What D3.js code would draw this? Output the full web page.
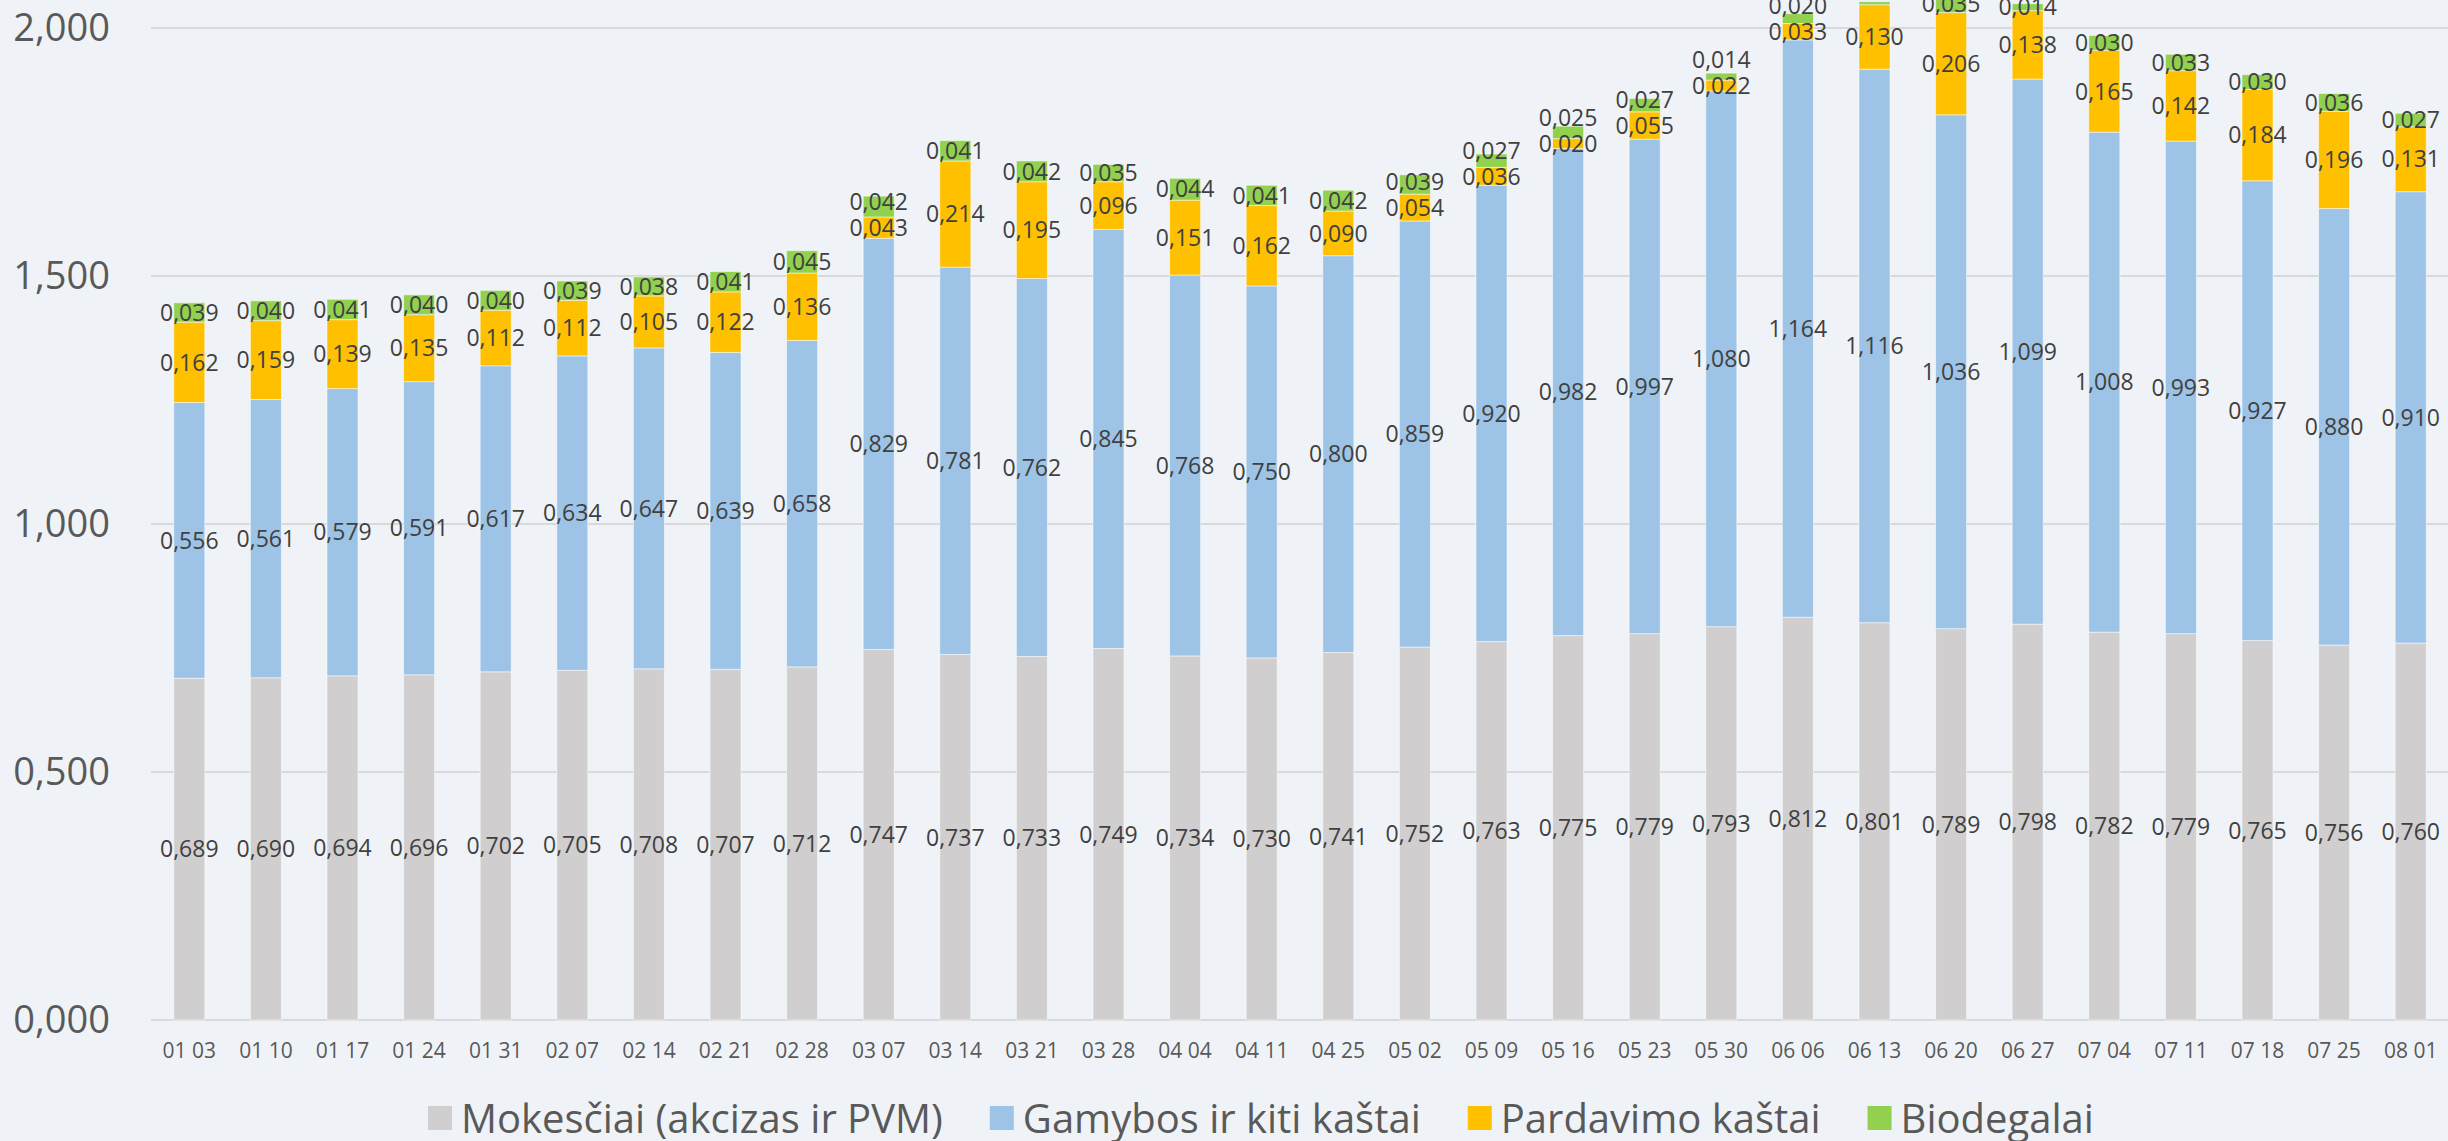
<!DOCTYPE html>
<html>
<head>
<meta charset="utf-8">
<script src="https://cdn.jsdelivr.net/npm/d3@7"></script>
<style>
  html, body { margin: 0; padding: 0; background: #eff3f7; }
  svg { display: block; font-family: "Open Sans", sans-serif; }
</style>
</head>
<body>
<div id="chart"></div>
<script>
// week labels (month day)
const dates = ["01 03","01 10","01 17","01 24","01 31","02 07","02 14","02 21","02 28","03 07",
  "03 14","03 21","03 28","04 04","04 11","04 25","05 02","05 09","05 16","05 23",
  "05 30","06 06","06 13","06 20","06 27","07 04","07 11","07 18","07 25","08 01"];

const taxes = [0.689,0.690,0.694,0.696,0.702,0.705,0.708,0.707,0.712,0.747,
  0.737,0.733,0.749,0.734,0.730,0.741,0.752,0.763,0.775,0.779,
  0.793,0.812,0.801,0.789,0.798,0.782,0.779,0.765,0.756,0.760];
const production = [0.556,0.561,0.579,0.591,0.617,0.634,0.647,0.639,0.658,0.829,
  0.781,0.762,0.845,0.768,0.750,0.800,0.859,0.920,0.982,0.997,
  1.080,1.164,1.116,1.036,1.099,1.008,0.993,0.927,0.880,0.910];
const sales = [0.162,0.159,0.139,0.135,0.112,0.112,0.105,0.122,0.136,0.043,
  0.214,0.195,0.096,0.151,0.162,0.090,0.054,0.036,0.020,0.055,
  0.022,0.033,0.130,0.206,0.138,0.165,0.142,0.184,0.196,0.131];
const biofuel = [0.039,0.040,0.041,0.040,0.040,0.039,0.038,0.041,0.045,0.042,
  0.041,0.042,0.035,0.044,0.041,0.042,0.039,0.027,0.025,0.027,
  0.014,0.020,0.006,0.035,0.014,0.030,0.033,0.030,0.036,0.027];

const seriesNames = ["Mokesčiai (akcizas ir PVM)", "Gamybos ir kiti kaštai", "Pardavimo kaštai", "Biodegalai"];
const seriesColors = ["#d0cece", "#9dc3e6", "#ffc000", "#92d050"];
const yTicks = [0, 0.5, 1, 1.5, 2];
const yTickLabels = ["0,000", "0,500", "1,000", "1,500", "2,000"];

const W = 2448, H = 1141;
const margin = {top: 28, right: -1, bottom: 121, left: 151};

const svg = d3.select("#chart").append("svg")
  .attr("width", W).attr("height", H);

svg.append("rect").attr("width", W).attr("height", H).attr("fill", "#eff3f7");

const x = d3.scaleBand()
  .domain(dates)
  .range([margin.left, W - margin.right])
  .paddingInner(0.595)
  .paddingOuter(0.2975);

const y = d3.scaleLinear()
  .domain([0, 2])
  .range([H - margin.bottom, margin.top]);

// gridlines
svg.append("g")
  .selectAll("line")
  .data(yTicks)
  .join("line")
  .attr("x1", margin.left)
  .attr("x2", W)
  .attr("y1", d => y(d))
  .attr("y2", d => y(d))
  .attr("stroke", "#d9d9d9")
  .attr("stroke-width", 2);

// y axis labels
svg.append("g")
  .selectAll("text")
  .data(yTicks)
  .join("text")
  .attr("x", 110)
  .attr("y", d => y(d))
  .attr("dy", "0.35em")
  .attr("text-anchor", "end")
  .attr("font-size", 38)
  .attr("fill", "#595959")
  .text((d, i) => yTickLabels[i]);

// stack
const table = dates.map((d, i) => ({
  date: d, s0: taxes[i], s1: production[i], s2: sales[i], s3: biofuel[i]
}));
const keys = ["s0", "s1", "s2", "s3"];
const stacked = d3.stack().keys(keys)(table);

const layers = svg.append("g")
  .selectAll("g")
  .data(stacked)
  .join("g")
  .attr("fill", (d, i) => seriesColors[i]);

layers.selectAll("rect")
  .data(d => d)
  .join("rect")
  .attr("x", d => x(d.data.date))
  .attr("width", x.bandwidth())
  .attr("y", d => y(d[1]))
  .attr("height", d => y(d[0]) - y(d[1]))
  .attr("stroke", "#ffffff")
  .attr("stroke-opacity", 0.5)
  .attr("stroke-width", 1);

// data labels
const fmt = v => d3.format(".3f")(v).replace(".", ",");
const labelG = svg.append("g")
  .attr("font-size", 23)
  .attr("fill", "#404040")
  .attr("text-anchor", "middle");

stacked.forEach((layer, li) => {
  layer.forEach((d, i) => {
    const v = d[1] - d[0];
    if (v < 0.01) return; // tiny slice has no label in the original
    let cy = y((d[0] + d[1]) / 2);
    if (li === 3) {
      // biofuel label pushed up above the sales label when they collide
      const sl = stacked[2][i];
      const salesY = y((sl[0] + sl[1]) / 2);
      cy = Math.min(cy, salesY - 26);
    }
    labelG.append("text")
      .attr("x", x(d.data.date) + x.bandwidth() / 2)
      .attr("y", cy)
      .attr("dy", "0.36em")
      .text(fmt(v));
  });
});

// x axis labels
svg.append("g")
  .selectAll("text")
  .data(dates)
  .join("text")
  .attr("x", d => x(d) + x.bandwidth() / 2)
  .attr("y", 1058)
  .attr("text-anchor", "middle")
  .attr("font-size", 21)
  .attr("fill", "#595959")
  .text(d => d);

// legend
const legend = svg.append("g");
let lx = 428;
seriesNames.forEach((name, i) => {
  legend.append("rect")
    .attr("x", lx).attr("y", 1106)
    .attr("width", 24).attr("height", 24)
    .attr("fill", seriesColors[i]);
  const t = legend.append("text")
    .attr("x", lx + 33).attr("y", 1133)
    .attr("font-size", 40)
    .attr("fill", "#595959")
    .text(name);
  lx += 33 + t.node().getComputedTextLength() + 47;
});
</script>
</body>
</html>
